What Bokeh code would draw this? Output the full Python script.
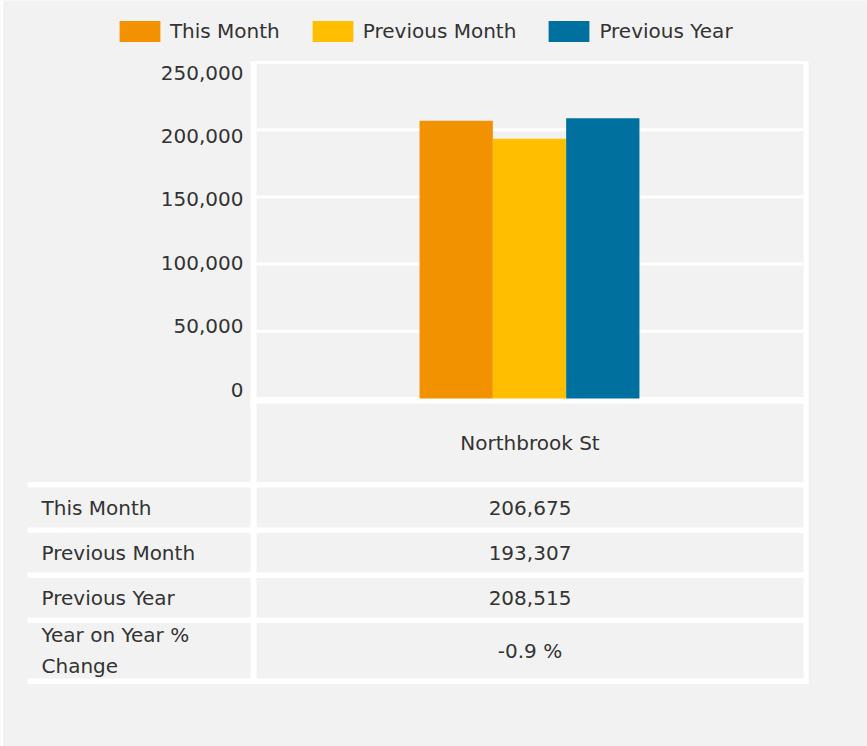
from bokeh.plotting import figure
from bokeh.models import ColumnDataSource, Range1d, Legend, LegendItem
from bokeh.core.properties import value
from bokeh.embed import file_html
from bokeh.resources import INLINE

# ---------------- data ----------------
categories = ["Northbrook St"]
series_names = ["This Month", "Previous Month", "Previous Year"]
this_month = [206675]
previous_month = [193307]
previous_year = [208515]
yoy_change = [-0.9]
y_ticks = [0, 50000, 100000, 150000, 200000, 250000]
row_labels = ["This Month", "Previous Month", "Previous Year", "Year on Year %\nChange"]

# ---------------- style / layout (canvas px) ----------------
colors = ["#f29200", "#ffbf00", "#00709f"]
BG = "#f2f2f2"
TXT = "#333333"
FONT = "DejaVu Sans"
FS = "20px"

W, H = 867, 746
FL, FR = 250, 808              # chart block incl. white side bands
FT, FB = 61, 403               # chart block incl. top line and bottom band
Y_TOP_PX, Y_ZERO_PX = 62, 398  # where the top tick and 0 sit
LAB_TOP_PX, LAB_ZERO_PX = 72, 389  # where the tick labels sit
BAND_L = (250, 256)
BAND_R = (803, 808)
NC = len(categories)
Y_MAX = y_ticks[-1]

u = Y_MAX / (Y_ZERO_PX - Y_TOP_PX)
v = Y_MAX / (LAB_ZERO_PX - LAB_TOP_PX)

p = figure(width=W, height=H, x_range=Range1d(0, W), y_range=Range1d(H, 0),
           output_backend="svg", toolbar_location=None,
           x_axis_location=None, y_axis_location=None, min_border=0,
           min_border_left=0, min_border_right=0, min_border_top=0, min_border_bottom=0)
p.background_fill_color = BG
p.border_fill_color = BG
p.outline_line_color = None
p.grid.visible = False

# value scale for bars, label scale for the tick labels, category scale for x
p.extra_y_ranges = {
    "val": Range1d((Y_ZERO_PX - H) * u, Y_ZERO_PX * u),
    "lab": Range1d((LAB_ZERO_PX - H) * v, LAB_ZERO_PX * v),
}
p.extra_x_ranges = {"cat": Range1d(-FL / (FR - FL) * NC, (W - FL) / (FR - FL) * NC)}

# thin white page edge on the left
p.quad(left=[0], right=[2.5], top=[0], bottom=[H], fill_color="white", line_color=None)

# grid lines
p.segment(x0=BAND_L[1], x1=BAND_R[0], y0=y_ticks, y1=y_ticks, y_range_name="val",
          line_color="white", line_width=3)

# ---------------- table structure ----------------
TAB_L = 27
GAP = 5.5
row_heights = [78.5, 40, 39.5, 39.5, 55.5]
tops, bottoms = [], []
y = FB
for h in row_heights:
    tops.append(y)
    bottoms.append(y + h)
    y += h + GAP
table_bottom = bottoms[-1] + GAP

bl, br, bt, bb = [], [], [], []
for l, r in (BAND_L, BAND_R):
    bl.append(l); br.append(r); bt.append(FT); bb.append(table_bottom)
bl.append(FL); br.append(FR); bt.append(Y_ZERO_PX); bb.append(FB)
for b in bottoms:
    bl.append(TAB_L); br.append(BAND_R[1]); bt.append(b); bb.append(b + GAP)
p.quad(left=bl, right=br, top=bt, bottom=bb, fill_color="white", line_color=None)

# ---------------- bars ----------------
series = [this_month, previous_month, previous_year]
bw = 73.3 / (FR - FL) * NC
items = []
for k, (vals, name) in enumerate(zip(series, series_names)):
    xs = [i + 0.5 + (k - 1) * bw for i in range(NC)]
    r = p.vbar(x=xs, top=vals, bottom=0, width=bw, x_range_name="cat", y_range_name="val",
               fill_color=colors[k], line_color=None)
    items.append(LegendItem(label=name, renderers=[r]))

# ---------------- y tick labels ----------------
p.text(x=[FL - 7] * len(y_ticks), y=y_ticks, text=[f"{t:,}" for t in y_ticks],
       y_range_name="lab", text_align="right", text_baseline="middle",
       text_font=value(FONT), text_font_size=FS, text_color=TXT)

# ---------------- table texts ----------------
centers = [(t + b) / 2 for t, b in zip(tops, bottoms)]
xc = (BAND_L[1] + BAND_R[0]) / 2
value_texts = [f"{this_month[0]:,}", f"{previous_month[0]:,}", f"{previous_year[0]:,}",
               f"{yoy_change[0]} %"]
tsrc = ColumnDataSource(dict(x=[xc] * 5, y=centers, t=[categories[0]] + value_texts))
p.text(x="x", y="y", text="t", source=tsrc, text_align="center", text_baseline="middle",
       text_font=value(FONT), text_font_size=FS, text_color=TXT)

lsrc = ColumnDataSource(dict(x=[41] * 4, y=centers[1:], t=row_labels))
p.text(x="x", y="y", text="t", source=lsrc, text_align="left", text_baseline="middle",
       text_font=value(FONT), text_font_size=FS, text_color=TXT, text_line_height=1.3)

# ---------------- legend ----------------
# legend swatches are drawn at 80% of the glyph box, so the box is enlarged
GW, GH = 41 / 0.8, 21 / 0.8
leg_x0 = 119 - 0.1 * GW
leg_top = 20 - 0.1 * GH
legend = Legend(items=items, orientation="horizontal",
                location=(leg_x0, H - (leg_top + GH)),
                glyph_width=round(GW), glyph_height=round(GH), label_height=round(GH),
                label_standoff=5, spacing=27, padding=0, margin=0,
                border_line_color=None, background_fill_alpha=0,
                label_text_font=FONT, label_text_font_size=FS, label_text_color=TXT)
p.add_layout(legend)

open("out.html", "w").write(file_html(p, INLINE))
